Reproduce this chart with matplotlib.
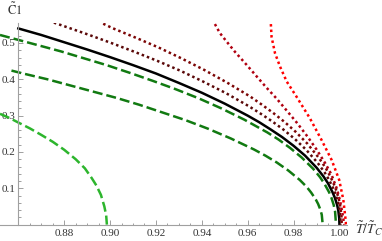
import numpy as np
import matplotlib.pyplot as plt
from matplotlib.ticker import FixedLocator, FormatStrFormatter

plt.rcParams['mathtext.fontset'] = 'stix'
plt.rcParams['font.family'] = ['Liberation Serif', 'DejaVu Serif']

# curves: x = T/Tc, y = C1
t_light = [0.852, 0.856, 0.860, 0.865, 0.870, 0.875, 0.880, 0.885, 0.889, 0.892,
           0.894, 0.896, 0.8975, 0.8983, 0.8986]
c_light = [0.305, 0.294, 0.281, 0.265, 0.247, 0.228, 0.206, 0.180, 0.155, 0.128,
           0.108, 0.082, 0.050, 0.025, 0.0]

t_green1 = [0.857, 0.8627, 0.8727, 0.8827, 0.8927, 0.9027, 0.9127, 0.9227, 0.9327,
            0.9427, 0.9527, 0.9627, 0.9677, 0.9727, 0.9777, 0.9827, 0.9857, 0.9877,
            0.9897, 0.9907, 0.9917, 0.9923, 0.9927]
c_green1 = [0.424, 0.415, 0.400, 0.383, 0.366, 0.349, 0.330, 0.309, 0.288,
            0.264, 0.237, 0.207, 0.190, 0.171, 0.149, 0.123, 0.104, 0.088,
            0.069, 0.057, 0.041, 0.027, 0.0]

t_green2 = [0.852, 0.8585, 0.8685, 0.8785, 0.8885, 0.8985, 0.9085, 0.9185, 0.9285,
            0.9385, 0.9485, 0.9585, 0.9685, 0.9735, 0.9785, 0.9835, 0.9885, 0.9915,
            0.9935, 0.9955, 0.9965, 0.9975, 0.9981, 0.9985]
c_green2 = [0.522, 0.511, 0.494, 0.477, 0.458, 0.439, 0.418, 0.396, 0.373,
            0.348, 0.320, 0.289, 0.254, 0.234, 0.211, 0.185, 0.154, 0.131,
            0.112, 0.089, 0.074, 0.054, 0.036, 0.0]

t_black = [0.86, 0.87, 0.88, 0.89, 0.90, 0.91, 0.92, 0.93, 0.94, 0.95, 0.96, 0.965,
           0.97, 0.975, 0.98, 0.985, 0.99, 0.993, 0.995, 0.997, 0.998, 0.999,
           0.9995, 0.9999, 1.0]
c_black = [0.540, 0.522, 0.502, 0.482, 0.461, 0.439, 0.416, 0.390, 0.363, 0.333,
           0.300, 0.282, 0.262, 0.241, 0.217, 0.190, 0.157, 0.133, 0.114, 0.089,
           0.074, 0.054, 0.039, 0.018, 0.0]

t_red1 = [0.8755, 0.8805, 0.8905, 0.9005, 0.9105, 0.9205, 0.9305, 0.9405, 0.9505,
          0.9605, 0.9655, 0.9705, 0.9755, 0.9805, 0.9855, 0.9905, 0.9935, 0.9955,
          0.9975, 0.9985, 0.9995, 1.0000, 1.0004, 1.0005]
c_red1 = [0.556, 0.545, 0.523, 0.500, 0.476, 0.451, 0.424, 0.394, 0.362,
          0.326, 0.306, 0.285, 0.262, 0.236, 0.206, 0.170, 0.144, 0.123,
          0.097, 0.080, 0.058, 0.042, 0.020, 0.0]

t_red2 = [0.897, 0.901, 0.911, 0.921, 0.931, 0.941, 0.951, 0.961, 0.966, 0.971,
          0.976, 0.981, 0.986, 0.991, 0.994, 0.996, 0.998, 0.999, 1.000, 1.0005,
          1.0009, 1.001]
c_red2 = [0.553, 0.541, 0.515, 0.488, 0.458, 0.426, 0.391, 0.353, 0.331, 0.308,
          0.283, 0.255, 0.223, 0.184, 0.156, 0.133, 0.105, 0.087, 0.063, 0.045,
          0.021, 0.0]

t_red3 = [0.9457, 0.9479, 0.9508, 0.9544, 0.9595, 0.9639, 0.9682, 0.9726, 0.9770,
          0.9815, 0.9860, 0.9900, 0.9937, 0.9965, 0.9988, 1.0003, 1.0012, 1.0018,
          1.0021]
c_red3 = [0.552, 0.527, 0.504, 0.476, 0.440, 0.408, 0.377, 0.347, 0.314,
          0.280, 0.243, 0.207, 0.170, 0.138, 0.100, 0.065, 0.035, 0.012, 0.0]

t_red4 = [0.9701, 0.9704, 0.9719, 0.9741, 0.9770, 0.9813, 0.9871, 0.9922, 0.9966,
          0.9999, 1.0017, 1.0027, 1.0029]
c_red4 = [0.552, 0.517, 0.472, 0.435, 0.394, 0.352, 0.293, 0.233, 0.178,
          0.123, 0.068, 0.013, 0.0]

fig = plt.figure(figsize=(3.82, 2.41), dpi=100)
ax = fig.add_axes([0.0, 0.0664, 0.9084, 0.8382])

dash = (0, (4, 1.6))
dots = (0, (1, 1.2))
lw = 1.8

ax.plot(t_light, c_light, color='#2db52d', lw=lw, ls=dash)
ax.plot(t_green1, c_green1, color='#117a11', lw=lw, ls=dash)
ax.plot(t_green2, c_green2, color='#117a11', lw=lw, ls=dash)
ax.plot(t_black, c_black, color='black', lw=lw)
ax.plot(t_red1, c_red1, color='#5a0808', lw=lw, ls=dots)
ax.plot(t_red2, c_red2, color='#7c0505', lw=lw, ls=dots)
ax.plot(t_red3, c_red3, color='#b00010', lw=lw, ls=dots)
ax.plot(t_red4, c_red4, color='#ff0000', lw=lw, ls=dots)

ax.set_xlim(0.852, 1.0033)
ax.set_ylim(-0.001, 0.555)

for s in ['top', 'right']:
    ax.spines[s].set_visible(False)
ax.spines['left'].set_position(('data', 0.86))
ax.spines['bottom'].set_position(('data', 0.0))
for s in ['left', 'bottom']:
    ax.spines[s].set_color('#a0a0a0')
    ax.spines[s].set_linewidth(0.8)

ax.xaxis.set_major_locator(FixedLocator([0.88, 0.90, 0.92, 0.94, 0.96, 0.98, 1.00]))
ax.xaxis.set_minor_locator(FixedLocator(np.arange(0.865, 1.0031, 0.005)))
ax.xaxis.set_major_formatter(FormatStrFormatter('%.2f'))
ax.yaxis.set_major_locator(FixedLocator([0.1, 0.2, 0.3, 0.4, 0.5]))
ax.yaxis.set_minor_locator(FixedLocator(np.arange(0.02, 0.555, 0.02)))
ax.yaxis.set_major_formatter(FormatStrFormatter('%.1f'))

ax.tick_params(which='both', direction='in', color='#a0a0a0', width=0.7,
               labelsize=8, labelcolor='#333333')
ax.tick_params(which='major', length=3.5)
ax.tick_params(which='minor', length=1.8)
ax.tick_params(axis='x', pad=3)
ax.tick_params(axis='y', pad=2)

fig.text(15 / 382, 1 - 10 / 241, r'$\tilde{\mathrm{C}}1$', fontsize=9,
         ha='center', va='center', color='#333333')
fig.text(369 / 382, 1 - 229 / 241, r'$\tilde{T}/\tilde{T}_C$', fontsize=10,
         ha='center', va='center', color='#333333')

fig.savefig('out.png', dpi=100)
